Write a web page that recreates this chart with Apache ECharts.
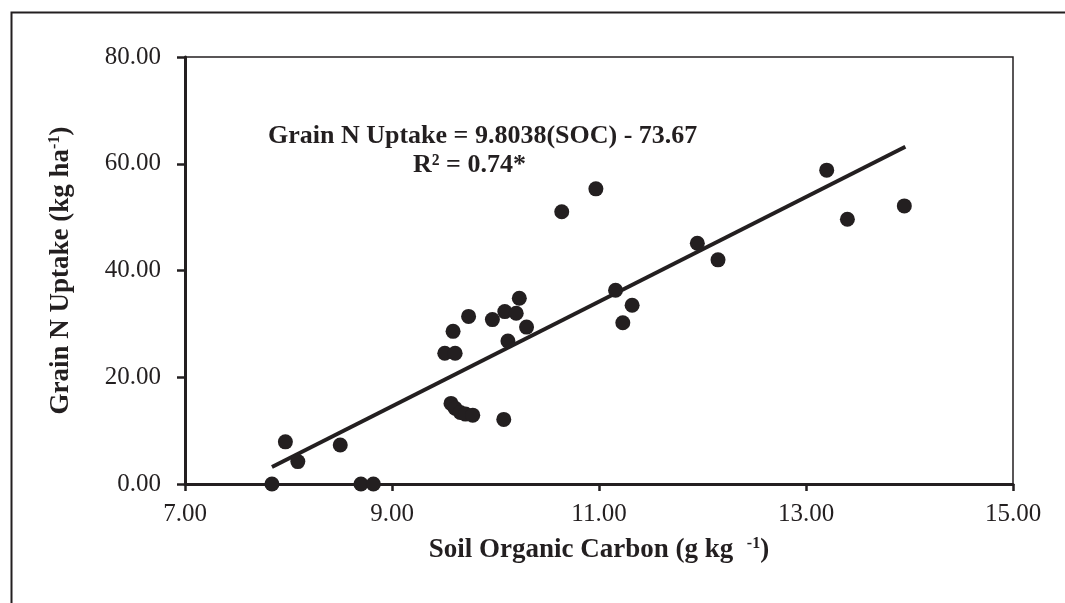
<!DOCTYPE html>
<html>
<head>
<meta charset="utf-8">
<script src="https://cdn.jsdelivr.net/npm/echarts@6/dist/echarts.min.js"></script>
<style>
html,body{margin:0;padding:0;background:#fff;}
#chart{width:1065px;height:603px;}
</style>
</head>
<body>
<div id="chart"></div>
<script>
// Data
var socValues = [7.84, 8.70, 8.82, 7.97, 8.09, 8.50, 9.57, 9.61, 9.66, 9.71, 9.78, 10.08,
  9.51, 9.61, 9.59, 9.74, 9.97, 10.09, 10.20, 10.23, 10.30, 10.12,
  10.64, 10.97, 11.16, 11.32, 11.23, 11.95, 12.15, 13.20, 13.40, 13.95];
var uptakeValues = [0.0, 0.0, 0.0, 7.9, 4.2, 7.3, 15.1, 14.2, 13.4, 13.1, 12.9, 12.1,
  24.5, 24.5, 28.6, 31.4, 30.8, 32.3, 32.0, 34.8, 29.4, 26.8,
  51.0, 55.3, 36.3, 33.5, 30.2, 45.1, 42.0, 58.8, 49.6, 52.1];
var trendX = [7.84, 13.96];
var trendY = [3.19, 63.17];
var xTicks = [7, 9, 11, 13, 15];
var yTicks = [0, 20, 40, 60, 80];
var equationText = 'Grain N Uptake = 9.8038(SOC) - 73.67';
var r2Text = 'R² = 0.74*';

var ink = '#231f20';
var font = '"Liberation Serif", "Times New Roman", serif';

var points = socValues.map(function (x, i) { return [x, uptakeValues[i]]; });
var trend = trendX.map(function (x, i) { return [x, trendY[i]]; });

var chart = echarts.init(document.getElementById('chart'), null, {renderer: 'canvas'});
chart.setOption({
  backgroundColor: '#fff',
  animation: false,
  grid: {left: 185, top: 57, right: 52, bottom: 119, show: true, borderColor: ink, borderWidth: 1.5, backgroundColor: 'transparent'},
  xAxis: {
    type: 'value', min: xTicks[0], max: xTicks[xTicks.length - 1], interval: 2,
    splitLine: {show: false},
    axisLine: {show: true, onZero: false, lineStyle: {color: ink, width: 3}},
    axisTick: {show: true, inside: false, length: 7, lineStyle: {color: ink, width: 2.5}},
    axisLabel: {color: ink, fontFamily: font, fontSize: 25, margin: 18, formatter: function (v) { return v.toFixed(2); }},
    name: 'Soil Organic Carbon (g kg  {sup|-1})',
    nameLocation: 'middle', nameGap: 52,
    nameTextStyle: {color: ink, fontFamily: font, fontSize: 27, fontWeight: 'bold',
      rich: {sup: {fontFamily: font, fontSize: 16, fontWeight: 'bold', color: ink, padding: [0, 0, 12, 0]}}}
  },
  yAxis: {
    type: 'value', min: yTicks[0], max: yTicks[yTicks.length - 1], interval: 20,
    splitLine: {show: false},
    axisLine: {show: true, onZero: false, lineStyle: {color: ink, width: 3}},
    axisTick: {show: true, inside: false, length: 8, lineStyle: {color: ink, width: 2.5}},
    axisLabel: {color: ink, fontFamily: font, fontSize: 25, margin: 24, formatter: function (v) { return v.toFixed(2); }},
    name: 'Grain N Uptake (kg ha{sup|-1})',
    nameLocation: 'middle', nameGap: 110, nameRotate: 90,
    nameTextStyle: {color: ink, fontFamily: font, fontSize: 27, fontWeight: 'bold',
      rich: {sup: {fontFamily: font, fontSize: 16, fontWeight: 'bold', color: ink, padding: [0, 0, 12, 0]}}}
  },
  series: [
    {
      type: 'line', data: trend, showSymbol: false, symbol: 'none',
      lineStyle: {color: ink, width: 4}, z: 2, silent: true
    },
    {
      type: 'scatter', data: points, symbol: 'circle', symbolSize: 15,
      itemStyle: {color: ink, opacity: 1}, z: 3
    }
  ],
  graphic: [
    {type: 'rect', left: 9, top: 10, shape: {width: 1200, height: 800},
     style: {fill: 'none', stroke: ink, lineWidth: 2}, z: 100, silent: true},
    {type: 'text', left: 268, top: 123,
     style: {text: equationText, fontFamily: font, fontSize: 26, fontWeight: 'bold', fill: ink}, z: 100},
    {type: 'text', left: 413, top: 152,
     style: {text: r2Text, fontFamily: font, fontSize: 26, fontWeight: 'bold', fill: ink}, z: 100}
  ]
});
</script>
</body>
</html>
